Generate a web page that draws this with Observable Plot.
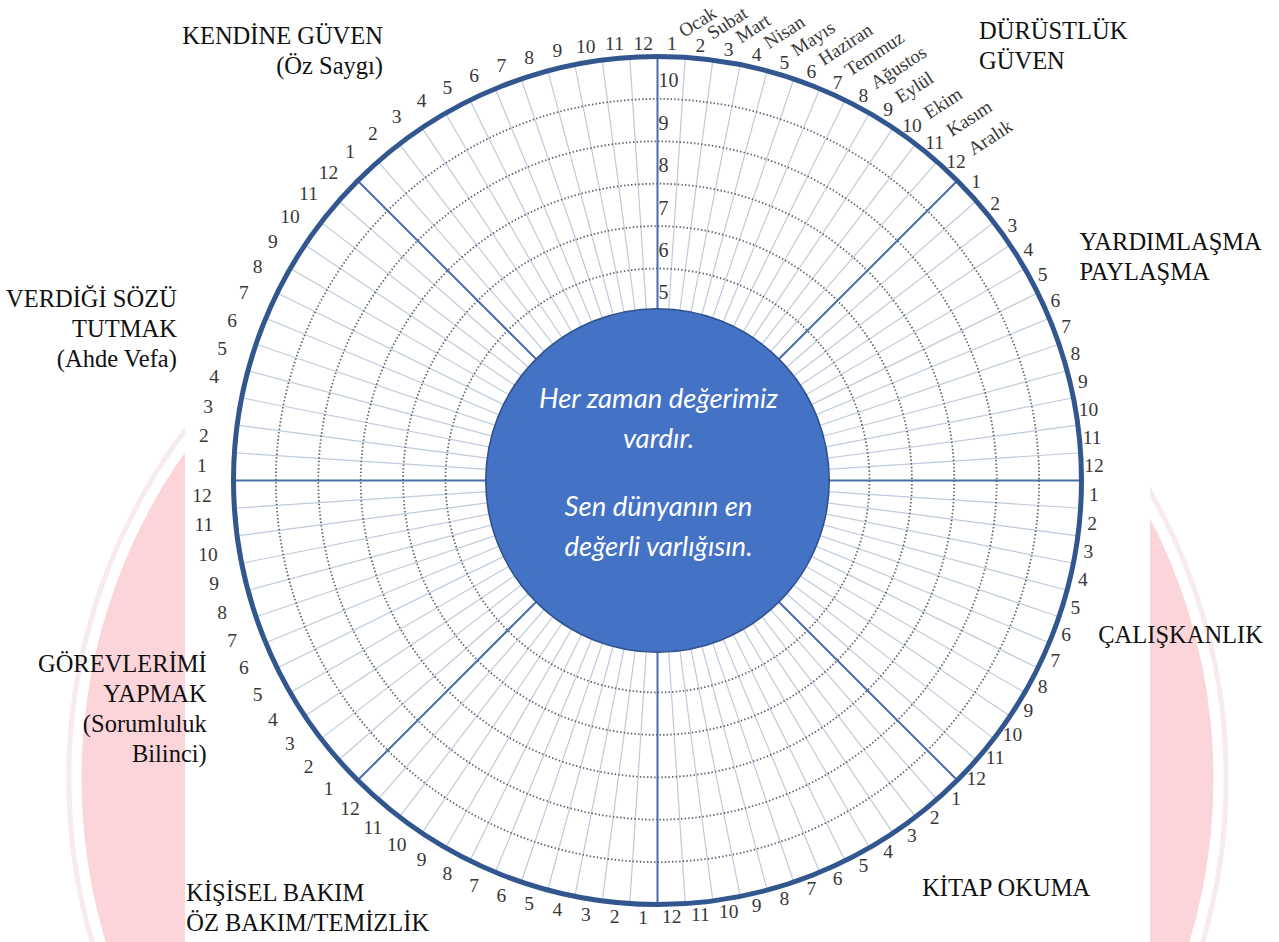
<!DOCTYPE html>
<html><head><meta charset="utf-8">
<script src="https://cdn.jsdelivr.net/npm/d3@7"></script>
<script src="https://cdn.jsdelivr.net/npm/@observablehq/plot@0.6"></script>
<style>html,body{margin:0;padding:0;background:#fff;overflow:hidden}</style>
</head><body><div id="chart"></div>
<script>
// ---------- data ----------
const sectorLabels = [
  "DÜRÜSTLÜK\nGÜVEN",
  "YARDIMLAŞMA\nPAYLAŞMA",
  "ÇALIŞKANLIK",
  "KİTAP OKUMA",
  "KİŞİSEL BAKIM\nÖZ BAKIM/TEMİZLİK",
  "GÖREVLERİMİ\nYAPMAK\n(Sorumluluk\nBilinci)",
  "VERDİĞİ SÖZÜ\nTUTMAK\n(Ahde Vefa)",
  "KENDİNE GÜVEN\n(Öz Saygı)"
];
const monthNumbers = [1,2,3,4,5,6,7,8,9,10,11,12];
const monthNames = ["Ocak","Subat","Mart","Nisan","Mayıs","Haziran","Temmuz","Ağustos","Eylül","Ekim","Kasım","Aralık"];
const levelTicks = [5,6,7,8,9,10];
const ringLevels = [4,5,6,7,8,9];
const outerLevel = 10;
const centerLevel = 4.05;
const centerText1 = "Her zaman değerimiz\nvardır.";
const centerText2 = "Sen dünyanın en\ndeğerli varlığısın.";

// ---------- layout ----------
const W = 1279, H = 942, CX = 657, CY = 480, K = 42.4;
const rad = d => d * Math.PI / 180;
const polX = (a, r) => r * Math.sin(rad(a));
const polY = (a, r) => r * Math.cos(rad(a));
const SEC = 360 / sectorLabels.length, STEP = SEC / monthNumbers.length;

// label placement for each sector (angle clockwise from top, radius in level units)
const labelLayout = [
  {a: 36.4, r: 12.78, anchor: "start"},
  {a: 61.9, r: 11.28, anchor: "start"},
  {a: 109.1, r: 11.0, anchor: "start"},
  {a: 146.9, r: 11.43, anchor: "start"},
  {a: 227.9, r: 14.98, anchor: "start"},
  {a: 243.3, r: 11.9, anchor: "end"},
  {a: 287.7, r: 11.9, anchor: "end"},
  {a: 327.5, r: 12.05, anchor: "end"}
];

const spokes = [];
const cells = [];
sectorLabels.forEach((name, s) => monthNumbers.forEach((m, i) => {
  const a0 = s * SEC + i * STEP;
  spokes.push({a: a0});
  const a = s * SEC + (i + 0.5) * STEP;
  const sn = Math.sin(rad(a));
  const rr = 10.3 + 0.45 * Math.max(0, -sn);
  cells.push({sector: s, month: m, a, x: rr * sn, y: rr * Math.cos(rad(a)), name: s === 0 ? monthNames[i] : null});
}));
const dividers = sectorLabels.map((d, s) => ({a: s * SEC}));
const sectorPts = sectorLabels.map((label, s) => ({label, x: polX(labelLayout[s].a, labelLayout[s].r), y: polY(labelLayout[s].a, labelLayout[s].r), anchor: labelLayout[s].anchor}));

// watermark (background logo) in level units
const mark = {x: (647 - CX) / K, y: (CY - 778) / K, r: 566 / K};

const serif = "'Liberation Serif', 'DejaVu Serif', serif";
const numColor = "#383838";
const sans = "Lato, 'Open Sans', sans-serif";

const plot = Plot.plot({
  width: W, height: H,
  margin: 0,
  x: {domain: [-CX / K, (W - CX) / K], range: [0, W], axis: null},
  y: {domain: [(CY - H) / K, CY / K], range: [H, 0], axis: null},
  r: {type: "linear", domain: [0, 10], range: [0, 10 * K]},
  style: {background: "white", fontFamily: serif, overflow: "hidden"},
  marks: [
    // watermark
    Plot.dot([mark], {x: "x", y: "y", r: "r", fill: "#fbd5d9", stroke: "none"}),
    Plot.dot([mark], {x: "x", y: "y", r: d => d.r + 0.3, fill: "none", stroke: "#f6ecec", strokeWidth: 5}),
    Plot.rect([0], {x1: (185 - CX) / K, x2: (1150 - CX) / K, y1: (CY - H) / K, y2: CY / K, fill: "white"}),
    // month spokes
    Plot.link(spokes, {x1: 0, y1: 0, x2: d => polX(d.a, outerLevel), y2: d => polY(d.a, outerLevel), stroke: "#bfcadb", strokeWidth: 1.2}),
    // dotted level rings
    Plot.dot(ringLevels, {x: 0, y: 0, r: d => d, fill: "none", stroke: "#5c6068", strokeWidth: 1.8, strokeDasharray: "1.4 2.2"}),
    // sector dividers
    Plot.link(dividers, {x1: d => polX(d.a, 4), y1: d => polY(d.a, 4), x2: d => polX(d.a, outerLevel), y2: d => polY(d.a, outerLevel), stroke: "#4a6fab", strokeWidth: 2}),
    // outer ring
    Plot.dot([outerLevel], {x: 0, y: 0, r: d => d, fill: "none", stroke: "#32578f", strokeWidth: 5}),
    // center disc
    Plot.dot([centerLevel], {x: 0, y: 0, r: d => d, fill: "#4472c4", stroke: "#2f528f", strokeWidth: 1.6}),
    Plot.text([centerText1], {x: 0, y: 0, dx: 1, dy: -65, text: d => d, fill: "white", fontFamily: sans, fontStyle: "italic", fontSize: 27.5, lineHeight: 1.45}),
    Plot.text([centerText2], {x: 0, y: 0, dx: 1, dy: 43, text: d => d, fill: "white", fontFamily: sans, fontStyle: "italic", fontSize: 27.5, lineHeight: 1.45}),
    // level ticks
    Plot.text(levelTicks, {x: 0, y: d => d - 0.58, text: d => String(d), textAnchor: "start", dx: 1, fill: numColor, fontSize: 20}),
    // month numbers
    Plot.text(cells, {x: "x", y: "y", text: d => String(d.month), fill: numColor, fontSize: 19.5}),
    // month names (first sector only)
    Plot.text(cells.filter(d => d.name && d.month < 10), {x: "x", y: "y", text: "name", textAnchor: "start", rotate: -33, dx: 9, dy: -11, fill: numColor, fontSize: 19}),
    Plot.text(cells.filter(d => d.name && d.month >= 10), {x: "x", y: "y", text: "name", textAnchor: "start", rotate: -33, dx: 14, dy: -11, fill: numColor, fontSize: 19}),
    // sector labels
    Plot.text(sectorPts.filter(d => d.anchor === "start"), {x: "x", y: "y", text: "label", textAnchor: "start", lineAnchor: "middle", lineHeight: 1.22, fill: "#111", fontSize: 24.5}),
    Plot.text(sectorPts.filter(d => d.anchor === "end"), {x: "x", y: "y", text: "label", textAnchor: "end", lineAnchor: "middle", lineHeight: 1.22, fill: "#111", fontSize: 24.5})
  ]
});
document.getElementById("chart").appendChild(plot);
</script>
</body></html>
